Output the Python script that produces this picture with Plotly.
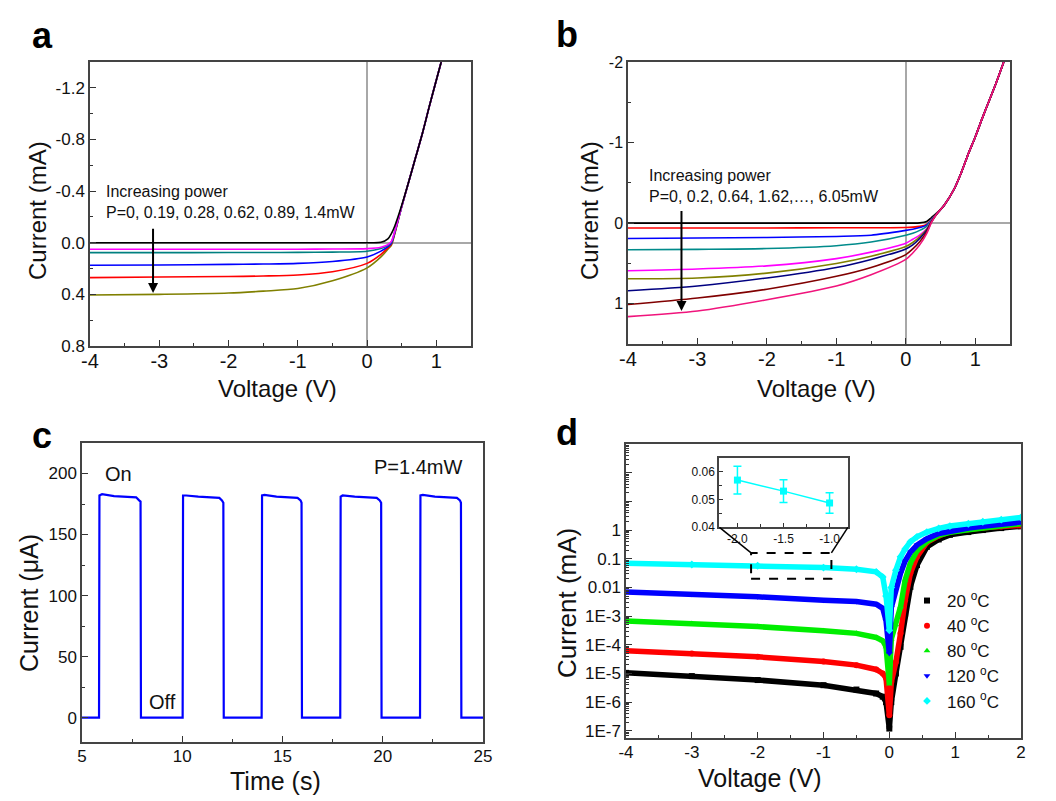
import plotly.graph_objects as go

FONT = "Liberation Sans, Arial, Helvetica, sans-serif"
OFF = 8                      # page body margin of the html page
W, H = 1056 - OFF, 801 - OFF

# ---------------- Panel a : I-V under illumination (P = 0 ... 1.4 mW)
va = [-4, -3, -2, -1.5, -1, -0.5, 0, 0.2, 0.3, 0.35, 0.4, 0.5, 0.6, 0.7, 0.8, 0.9, 1.0, 1.07]
fwd_a = [-0.47, -0.66, -0.85, -1.06, -1.26, -1.4]
ia_p0 = [0, 0, 0, 0, 0, 0, 0, -0.003, -0.03, -0.07, -0.13, -0.29] + fwd_a
ia_p1 = [0.05, 0.05, 0.05, 0.05, 0.05, 0.049, 0.046, 0.035, 0.015, -0.01, -0.09, -0.28] + fwd_a
ia_p2 = [0.077, 0.077, 0.076, 0.076, 0.075, 0.073, 0.066, 0.045, 0.02, -0.005, -0.085, -0.28] + fwd_a
ia_p3 = [0.175, 0.172, 0.168, 0.165, 0.16, 0.145, 0.11, 0.065, 0.03, 0.005, -0.08, -0.28] + fwd_a
ia_p4 = [0.27, 0.265, 0.262, 0.258, 0.25, 0.225, 0.16, 0.09, 0.04, 0.01, -0.075, -0.28] + fwd_a
ia_p5 = [0.405, 0.4, 0.39, 0.375, 0.355, 0.295, 0.195, 0.11, 0.05, 0.02, -0.07, -0.28] + fwd_a
a_series = [ia_p5, ia_p4, ia_p3, ia_p2, ia_p1, ia_p0]
a_colors = ["#808000", "#FF0000", "#0000FF", "#008080", "#FF00FF", "#000000"]
a_xticks = [-4, -3, -2, -1, 0, 1]
a_xtext = ["-4", "-3", "-2", "-1", "0", "1"]
a_yticks = [-1.2, -0.8, -0.4, 0.0, 0.4, 0.8]
a_ytext = ["-1.2", "-0.8", "-0.4", "0.0", "0.4", "0.8"]

# ---------------- Panel b : I-V under illumination (P = 0 ... 6.05 mW)
vb = [-4, -3, -2, -1, -0.5, 0, 0.1, 0.2, 0.3, 0.37, 0.45, 0.55, 0.7, 0.8, 0.9, 1.0, 1.1, 1.2, 1.3, 1.41]
fwd_b = [-0.22, -0.43, -0.63, -0.86, -1.07, -1.30, -1.52, -1.74, -2.0]
ib_p0 = [0, 0, 0, 0, 0, 0, 0, -0.003, -0.02, -0.07, -0.13] + fwd_b
ib_p1 = [0.06, 0.06, 0.06, 0.058, 0.057, 0.055, 0.05, 0.04, 0.015, -0.05, -0.12] + fwd_b
ib_p2 = [0.19, 0.185, 0.178, 0.165, 0.15, 0.09, 0.075, 0.055, 0.025, -0.045, -0.12] + fwd_b
ib_p3 = [0.33, 0.325, 0.315, 0.28, 0.235, 0.15, 0.125, 0.09, 0.04, -0.04, -0.12] + fwd_b
ib_p4 = [0.59, 0.57, 0.53, 0.44, 0.36, 0.25, 0.2, 0.15, 0.07, -0.03, -0.12] + fwd_b
ib_p5 = [0.69, 0.68, 0.62, 0.5, 0.41, 0.29, 0.24, 0.17, 0.08, -0.025, -0.12] + fwd_b
ib_p6 = [0.84, 0.78, 0.68, 0.55, 0.45, 0.32, 0.27, 0.19, 0.09, -0.02, -0.12] + fwd_b
ib_p7 = [1.01, 0.93, 0.82, 0.66, 0.55, 0.39, 0.32, 0.23, 0.11, -0.015, -0.12] + fwd_b
ib_p8 = [1.16, 1.09, 0.95, 0.78, 0.64, 0.45, 0.37, 0.27, 0.13, -0.01, -0.12] + fwd_b
b_series = [ib_p0, ib_p1, ib_p2, ib_p3, ib_p4, ib_p5, ib_p6, ib_p7, ib_p8]
b_colors = ["#000000", "#FF0000", "#0000FF", "#008B8B", "#FF00FF", "#808000", "#000080", "#800000", "#F0147C"]
b_yticks = [-2, -1, 0, 1]
b_ytext = ["-2", "-1", "0", "1"]

# ---------------- Panel c : on/off switching at P = 1.4 mW
t_c = [5.0, 5.85, 5.87, 6.0, 6.6, 7.2, 7.7, 7.85, 7.92, 7.94,
       10.02, 10.04, 10.2, 10.8, 11.4, 11.85, 11.98, 12.05, 12.07,
       13.96, 13.98, 14.1, 14.7, 15.3, 15.75, 15.9, 15.95, 15.97,
       17.88, 17.9, 18.0, 18.6, 19.2, 19.7, 19.85, 19.92, 19.94,
       21.86, 21.88, 22.0, 22.6, 23.2, 23.7, 23.85, 23.9, 23.92, 25.0]
i_c = [0, 0, 182, 183, 181.5, 181, 180.5, 178, 177, 0,
       0, 182, 182, 181, 180.5, 180, 178, 176, 0,
       0, 182, 182.5, 181, 180.5, 180, 178, 176, 0,
       0, 181, 182, 181, 180.5, 180, 178, 176, 0,
       0, 182, 182.5, 181, 180.5, 180, 178, 176, 0, 0]
c_xticks = [5, 10, 15, 20, 25]
c_yticks = [0, 50, 100, 150, 200]

# ---------------- Panel d : dark I-V at different temperatures (|I|, log scale)
vd = [-4, -3, -2, -1, -0.5, -0.2, -0.1, -0.05, 0, 0.03, 0.1, 0.17, 0.24, 0.32, 0.42,
      0.57, 0.75, 0.92, 1.2, 1.42, 1.7, 2.0]
id_20 = [1.05e-5, 8.1e-6, 5.9e-6, 3.9e-6, 2.75e-6, 2.0e-6, 1.55e-6, 1.0e-6, 1.2e-7, 1.0e-6, 1.0e-5,
         8.5e-5, 1.23e-3, 1.05e-2, 6.0e-2, 0.26, 0.47, 0.68, 0.85, 1.0, 1.17, 1.35]
id_40 = [6.2e-5, 5.0e-5, 3.8e-5, 2.6e-5, 1.95e-5, 1.38e-5, 1.0e-5, 6.8e-6, 3.5e-7, 5.0e-6, 2.5e-5,
         2.5e-4, 3.6e-3, 3.1e-2, 0.117, 0.37, 0.63, 0.87, 1.07, 1.2, 1.32, 1.45]
id_80 = [6.8e-4, 5.5e-4, 4.3e-4, 3.1e-4, 2.5e-4, 1.8e-4, 1.38e-4, 8.5e-5, 4.3e-6, 1.6e-4, 5.0e-4,
         2.1e-3, 1.8e-2, 7.1e-2, 0.19, 0.4, 0.66, 0.83, 1.02, 1.15, 1.38, 1.66]
id_120 = [6.9e-3, 5.8e-3, 4.7e-3, 3.6e-3, 3.2e-3, 2.6e-3, 1.86e-3, 6.9e-4, 5.0e-5, 2.0e-3, 1.0e-2,
          3.1e-2, 8.3e-2, 0.17, 0.3, 0.5, 0.76, 0.93, 1.17, 1.35, 1.62, 1.9]
id_160 = [0.069, 0.063, 0.057, 0.049, 0.043, 0.035, 0.023, 5.0e-3, 3.2e-4, 0.01, 0.04,
          0.117, 0.22, 0.39, 0.58, 0.85, 1.15, 1.38, 1.66, 1.95, 2.3, 2.75]
d_series = [id_20, id_40, id_80, id_120, id_160]
d_names = ["20 <sup>o</sup>C", "40 <sup>o</sup>C", "80 <sup>o</sup>C", "120 <sup>o</sup>C", "160 <sup>o</sup>C"]
d_colors = ["#000000", "#FF0000", "#00EE00", "#0000FF", "#00FFFF"]
d_symbols = ["square", "circle", "triangle-up", "triangle-down", "diamond"]
d_xticks = [-4, -3, -2, -1, 0, 1, 2]
d_xtext = ["-4", "-3", "-2", "-1", "0", "1", "2"]
d_yticks = [1e-7, 1e-6, 1e-5, 1e-4, 1e-3, 1e-2, 1e-1, 1, 10, 100, 1000]
d_ytext = ["1E-7", "1E-6", "1E-5", "1E-4", "1E-3", "0.01", "0.1", "1", " ", " ", " "]

# inset of panel d (160 oC)
v_in = [-2.0, -1.5, -1.0]
i_in = [0.0570, 0.0530, 0.0487]
e_in = [0.0050, 0.0041, 0.0037]
in_xticks = [-2.0, -1.5, -1.0]
in_xtext = ["-2.0", "-1.5", "-1.0"]
in_yticks = [0.04, 0.05, 0.06]
in_ytext = ["0.04", "0.05", "0.06"]


def px_x(p):
    return (p - OFF) / W


def px_y(p):
    return 1 - (p - OFF) / H


def axis(domain, anchor, rng, tickvals, ticktext, tfs, minor_dtick, typ="linear",
         zeroline=False, minor_tick0=0, ticklen=6, standoff=0):
    return dict(domain=domain, anchor=anchor, range=rng, type=typ,
                tickmode="array", tickvals=tickvals, ticktext=ticktext,
                ticks="inside", ticklen=ticklen, tickwidth=1.2, tickcolor="#333",
                showline=True, linecolor="#444", linewidth=1.5, mirror=True,
                showgrid=False, zeroline=zeroline, zerolinecolor="#a8a8a8", zerolinewidth=1.5,
                tickfont=dict(size=tfs, color="#111", family=FONT), automargin=False,
                ticklabelstandoff=standoff,
                minor=dict(ticks="inside", ticklen=3, tickwidth=1, tickcolor="#333",
                           dtick=minor_dtick, tick0=minor_tick0, showgrid=False))


fig = go.Figure()

for ys, col in zip(a_series, a_colors):
    fig.add_trace(go.Scatter(x=va, y=ys, mode="lines", line=dict(color=col, width=1.6, shape="spline", smoothing=0.8),
                             xaxis="x", yaxis="y", showlegend=False))
for ys, col in zip(b_series, b_colors):
    fig.add_trace(go.Scatter(x=vb, y=ys, mode="lines", line=dict(color=col, width=1.6, shape="spline", smoothing=0.8),
                             xaxis="x2", yaxis="y2", showlegend=False))
fig.add_trace(go.Scatter(x=t_c, y=i_c, mode="lines", line=dict(color="#0000FF", width=2.2),
                         xaxis="x3", yaxis="y3", showlegend=False))
for ys, col, sym in zip(d_series, d_colors, d_symbols):
    fig.add_trace(go.Scatter(x=vd, y=ys, mode="lines+markers", line=dict(color=col, width=5.5),
                             marker=dict(symbol=sym, size=6, color=col),
                             xaxis="x4", yaxis="y4", showlegend=False))
for nm, col, sym in zip(d_names, d_colors, d_symbols):
    fig.add_trace(go.Scatter(x=[None], y=[None], mode="markers", name=nm,
                             marker=dict(symbol=sym, size=6, color=col),
                             xaxis="x4", yaxis="y4", showlegend=True))
fig.add_trace(go.Scatter(x=v_in, y=i_in, mode="lines+markers", line=dict(color="#00FFFF", width=1.5),
                         marker=dict(symbol="square", size=7, color="#00FFFF"),
                         error_y=dict(type="data", array=e_in, color="#00FFFF", thickness=1.5, width=4),
                         xaxis="x5", yaxis="y5", showlegend=False))

dom_a_x = [px_x(90), px_x(471)]
dom_a_y = [px_y(346), px_y(62)]
dom_b_x = [px_x(628), px_x(1010)]
dom_b_y = [px_y(344), px_y(62)]
dom_c_x = [px_x(82), px_x(483)]
dom_c_y = [px_y(742), px_y(443)]
dom_d_x = [px_x(626), px_x(1021)]
dom_d_y = [px_y(738), px_y(444)]
dom_i_x = [px_x(719), px_x(848)]
dom_i_y = [px_y(527), px_y(458)]

fig.update_layout(
    width=W, height=H, margin=dict(l=0, r=0, t=0, b=0),
    paper_bgcolor="white", plot_bgcolor="white",
    font=dict(family=FONT, color="#111"),
    xaxis=axis(dom_a_x, "y", [-4, 1.5], a_xticks, a_xtext, 20, 0.5, zeroline=True, standoff=-4),
    yaxis=axis(dom_a_y, "x", [0.8, -1.4], a_yticks, a_ytext, 17, 0.2, zeroline=True),
    xaxis2=axis(dom_b_x, "y2", [-4, 1.5], a_xticks, a_xtext, 20, 0.5, zeroline=True, standoff=-4),
    yaxis2=axis(dom_b_y, "x2", [1.5, -2], b_yticks, b_ytext, 16, 0.5, zeroline=True),
    xaxis3=axis(dom_c_x, "y3", [5, 25], c_xticks, [str(v) for v in c_xticks], 17, 2.5, standoff=-2),
    yaxis3=axis(dom_c_y, "x3", [-20, 225], c_yticks, [str(v) for v in c_yticks], 17, 25),
    xaxis4=axis(dom_d_x, "y4", [-4, 2], d_xticks, d_xtext, 17, 0.5, standoff=-2),
    yaxis4=axis(dom_d_y, "x4", [-7.25, 3], d_yticks, d_ytext, 17, "D1", typ="log"),
    xaxis5=axis(dom_i_x, "y5", [-2.2, -0.8], in_xticks, in_xtext, 12, 0.25, ticklen=4),
    yaxis5=axis(dom_i_y, "x5", [0.04, 0.065], in_yticks, in_ytext, 12, 0.005, ticklen=4),
    legend=dict(x=px_x(907), y=px_y(583), xanchor="left", yanchor="top", bgcolor="rgba(0,0,0,0)",
                font=dict(size=17, family=FONT, color="#111"), tracegroupgap=0, itemwidth=30),
)

ann = []
for letter, cx, cy in [("a", 42, 36), ("b", 567, 34), ("c", 42, 435), ("d", 567, 432)]:
    ann.append(dict(text="<b>%s</b>" % letter, x=px_x(cx), y=px_y(cy), xref="paper", yref="paper",
                    xanchor="center", yanchor="middle", showarrow=False, font=dict(size=36, family=FONT, color="#000")))

# axis titles (text, centre x, centre y, size, angle)
titles = [("Voltage (V)", 277, 388, 24, 0), ("Current (mA)", 37, 211, 24, -90),
          ("Voltage (V)", 816, 388, 24, 0), ("Current (mA)", 589, 211, 24, -90),
          ("Time (s)", 275, 781, 25, 0), ("Current (μA)", 29, 603, 25, -90),
          ("Voltage (V)", 760, 778, 25, 0), ("Current (mA)", 567, 603, 26, -90)]
for txt, cx, cy, fs, ang in titles:
    ann.append(dict(text=txt, x=px_x(cx), y=px_y(cy), xref="paper", yref="paper", xanchor="center",
                    yanchor="middle", textangle=ang, showarrow=False, font=dict(size=fs, family=FONT, color="#111")))

ann.append(dict(text="Increasing power<br>P=0, 0.19, 0.28, 0.62, 0.89, 1.4mW", x=px_x(104), y=px_y(202),
                xref="paper", yref="paper", xanchor="left", yanchor="middle", align="left", showarrow=False,
                font=dict(size=16, family=FONT, color="#111")))
ann.append(dict(x=-3.09, y=0.39, ax=-3.09, ay=-0.12, xref="x", yref="y", axref="x", ayref="y", text="",
                showarrow=True, arrowhead=2, arrowsize=1, arrowwidth=2, arrowcolor="#000"))
ann.append(dict(text="Increasing power<br>P=0, 0.2, 0.64, 1.62,…, 6.05mW", x=px_x(647), y=px_y(186),
                xref="paper", yref="paper", xanchor="left", yanchor="middle", align="left", showarrow=False,
                font=dict(size=16, family=FONT, color="#111")))
ann.append(dict(x=-3.23, y=1.09, ax=-3.23, ay=-0.17, xref="x2", yref="y2", axref="x2", ayref="y2", text="",
                showarrow=True, arrowhead=2, arrowsize=1, arrowwidth=2, arrowcolor="#000"))
ann.append(dict(text="On", x=6.8, y=200, xref="x3", yref="y3", showarrow=False, font=dict(size=20, family=FONT, color="#111")))
ann.append(dict(text="Off", x=9.0, y=13, xref="x3", yref="y3", showarrow=False, font=dict(size=20, family=FONT, color="#111")))
ann.append(dict(text="P=1.4mW", x=21.75, y=205, xref="x3", yref="y3", showarrow=False, font=dict(size=20, family=FONT, color="#111")))
fig.update_layout(annotations=ann)

shapes = [
    dict(type="rect", xref="x4", yref="y4", x0=-2.1, x1=-0.88, y0=0.02, y1=0.16,
         line=dict(color="#000", width=2, dash="dash")),
    dict(type="line", xref="x4", yref="y4", x0=-2.58, y0=1.24, x1=-2.1, y1=0.16, line=dict(color="#000", width=1.5)),
    dict(type="line", xref="x4", yref="y4", x0=-0.63, y0=1.24, x1=-0.88, y1=0.16, line=dict(color="#000", width=1.5)),
]
fig.update_layout(shapes=shapes)

fig.write_html("out.html")
